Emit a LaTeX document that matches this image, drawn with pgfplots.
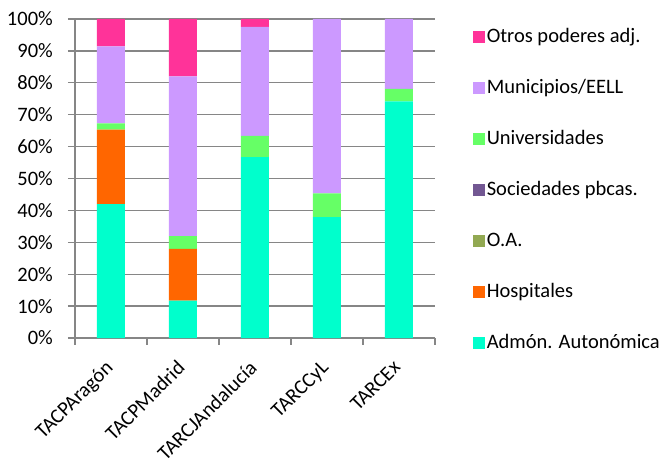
\documentclass[border=0pt]{standalone}
\usepackage{fontspec}
\setmainfont{Carlito}
\usepackage{pgfplots}
\pgfplotsset{compat=1.18}

\definecolor{admon}{RGB}{0,255,204}
\definecolor{hosp}{RGB}{255,102,0}
\definecolor{oa}{RGB}{146,169,82}
\definecolor{soc}{RGB}{114,87,146}
\definecolor{univ}{RGB}{102,255,102}
\definecolor{muni}{RGB}{204,153,255}
\definecolor{otros}{RGB}{255,51,153}
\definecolor{gridgray}{RGB}{134,134,134}

\begin{document}
\begin{tikzpicture}[font=\fontsize{20.5}{23}\selectfont]
\path[use as bounding box] (0,0) rectangle (670pt,461pt);
\begin{axis}[
	at={(75pt,123pt)}, anchor=south west,
	scale only axis, width=360pt, height=319pt,
	ybar stacked, bar width=28pt,
	xmin=-0.5, xmax=4.5, ymin=0, ymax=100,
	axis lines*=left,
	axis line style={draw=gridgray, line width=1.3pt},
	ymajorgrids, grid style={draw=gridgray, line width=1.3pt},
	ytick={0,10,...,100},
	yticklabels={0\%,10\%,20\%,30\%,40\%,50\%,60\%,70\%,80\%,90\%,100\%},
	xtick={0,1,2,3,4},
	xticklabels={TACPAragón,TACPMadrid,TARCJAndalucía,TARCCyL,TARCEx},
	minor xtick={-0.5,0.5,...,4.5},
	tick align=outside, major tick length=7pt, minor tick length=7pt,
	x tick style={draw=none},
	minor x tick style={draw=gridgray, line width=1.3pt},
	y tick style={draw=gridgray, line width=1.3pt},
	xticklabel style={xshift=-7pt, yshift=-14pt, rotate=45, anchor=north east, inner sep=0pt},
	yticklabel style={inner sep=0pt, xshift=-15pt},
	reverse legend,
	legend cell align=left,
	legend style={at={(1.105,0.972)}, anchor=north west, draw=none, fill=none,
		inner sep=0pt, outer sep=0pt, row sep=32pt, column sep=0pt,
		nodes={inner xsep=2pt, inner ysep=0pt, text height=15pt, text depth=4pt}},
	legend image code/.code={\fill[#1] (0pt,-6pt) rectangle (12pt,6pt);},
]
\addplot[fill=admon, draw=none] coordinates {(0,42.0) (1,11.7) (2,56.7) (3,37.9) (4,74.2)};
\addlegendentry{Admón. Autonómica}
\addplot[fill=hosp, draw=none] coordinates {(0,23.3) (1,16.2) (2,0) (3,0) (4,0)};
\addlegendentry{Hospitales}
\addplot[fill=oa, draw=none] coordinates {(0,0) (1,0) (2,0) (3,0) (4,0)};
\addlegendentry{O.A.}
\addplot[fill=soc, draw=none] coordinates {(0,0) (1,0) (2,0) (3,0) (4,0)};
\addlegendentry{Sociedades pbcas.}
\addplot[fill=univ, draw=none] coordinates {(0,2.0) (1,4.0) (2,6.7) (3,7.4) (4,3.9)};
\addlegendentry{Universidades}
\addplot[fill=muni, draw=none] coordinates {(0,24.1) (1,50.1) (2,34.1) (3,54.7) (4,21.9)};
\addlegendentry{Municipios/EELL}
\addplot[fill=otros, draw=none] coordinates {(0,8.6) (1,18.0) (2,2.5) (3,0) (4,0)};
\addlegendentry{Otros poderes adj.}
\end{axis}
\end{tikzpicture}
\end{document}
